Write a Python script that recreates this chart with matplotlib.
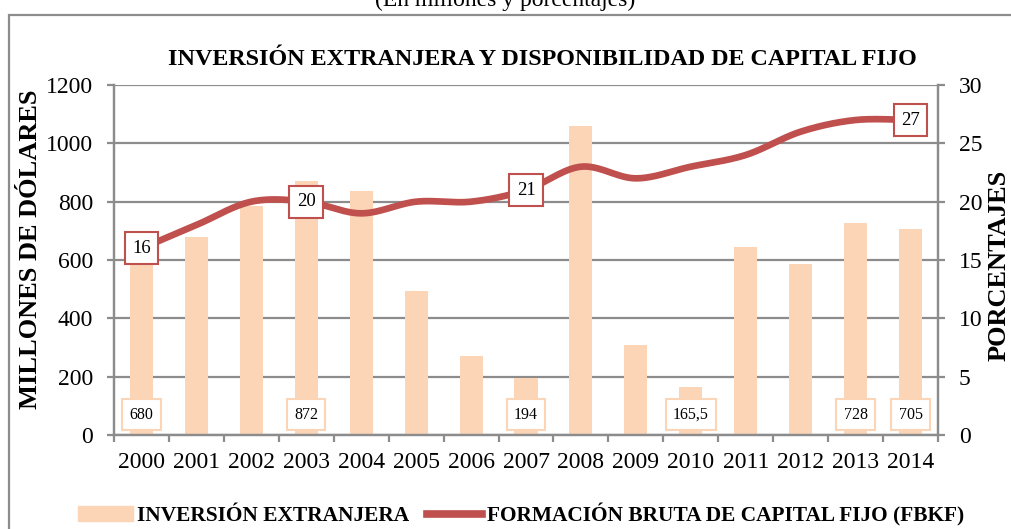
import numpy as np
import matplotlib
matplotlib.use('Agg')
import matplotlib.pyplot as plt
from matplotlib.patches import Rectangle, Patch
from matplotlib.lines import Line2D

plt.rcParams['font.family'] = ['Liberation Serif', 'DejaVu Serif']

# datos
anios = ['2000', '2001', '2002', '2003', '2004', '2005', '2006', '2007',
         '2008', '2009', '2010', '2011', '2012', '2013', '2014']
inversion = [680, 679, 785, 872, 836, 494, 271, 194, 1059, 308, 165.5, 645, 586, 728, 705]
fbkf = [16, 18, 20, 20, 19, 20, 20, 21, 23, 22, 23, 24, 26, 27, 27]

# etiquetas que se muestran
etiq_barras = {0: '680', 3: '872', 7: '194', 10: '165,5', 13: '728', 14: '705'}
etiq_linea = {0: '16', 3: '20', 7: '21', 14: '27'}

c_barra = '#FBD5B5'
c_linea = '#C0504D'
c_grid = '#8C8C8C'


def suavizar(x, y, n=30):
    '''curva suavizada tipo Excel (Bezier con puntos de control Catmull-Rom)'''
    x = np.asarray(x, float)
    y = np.asarray(y, float)
    px, py = [], []
    for i in range(len(x) - 1):
        i0 = max(i - 1, 0)
        i3 = min(i + 2, len(x) - 1)
        c1x = x[i] + (x[i + 1] - x[i0]) / 6
        c1y = y[i] + (y[i + 1] - y[i0]) / 6
        c2x = x[i + 1] - (x[i3] - x[i]) / 6
        c2y = y[i + 1] - (y[i3] - y[i]) / 6
        t = np.linspace(0, 1, n)
        bx = (1-t)**3*x[i] + 3*(1-t)**2*t*c1x + 3*(1-t)*t**2*c2x + t**3*x[i+1]
        by = (1-t)**3*y[i] + 3*(1-t)**2*t*c1y + 3*(1-t)*t**2*c2y + t**3*y[i+1]
        px.extend(bx)
        py.extend(by)
    return np.array(px), np.array(py)


fig = plt.figure(figsize=(10.11, 5.29), dpi=100)
ax = fig.add_axes([0.1128, 0.1777, 0.815, 0.6616])
ax2 = ax.twinx()

x = np.arange(len(anios))
ax.bar(x, inversion, width=0.42, color=c_barra, zorder=2)
ax.set_xlim(-0.5, len(anios) - 0.5)
ax.set_ylim(0, 1200)
ax.set_yticks(range(0, 1201, 200))
ax.grid(axis='y', color=c_grid, lw=1.6, zorder=0)
ax.set_axisbelow(True)

sx, sy = suavizar(x, fbkf)
ax2.plot(sx, sy, color=c_linea, lw=4.8, solid_capstyle='butt', zorder=3)
ax2.set_ylim(0, 30)
ax2.set_yticks(range(0, 31, 5))

for a in (ax, ax2):
    for s in a.spines.values():
        s.set_color(c_grid)
        s.set_linewidth(1.6)
    a.spines['top'].set_visible(False)
    a.tick_params(axis='y', labelsize=17, length=5, width=1.6, color=c_grid, pad=10)

ax.set_xticks(x)
ax.set_xticklabels(anios)
ax.set_xticks(np.arange(-0.5, len(anios)), minor=True)
ax.tick_params(axis='x', which='major', length=0, labelsize=17, pad=12)
ax.tick_params(axis='x', which='minor', length=5, width=1.6, color=c_grid)

# etiquetas de datos
for i, txt in etiq_barras.items():
    ax.text(x[i], 70, txt, ha='center', va='center', fontsize=11.5, zorder=5,
            bbox=dict(boxstyle='square,pad=0.45', fc='white', ec=c_barra, lw=1.5))
for i, txt in etiq_linea.items():
    ax2.text(x[i], fbkf[i], txt, ha='center', va='center', fontsize=13.5, zorder=5,
             bbox=dict(boxstyle='square,pad=0.4', fc='white', ec=c_linea, lw=1.5))

ax.set_ylabel('MILLONES DE DÓLARES', fontsize=19, fontweight='bold')
ax.yaxis.set_label_coords(-0.088, 0.53)
ax2.set_ylabel('PORCENTAJES', fontsize=19, fontweight='bold')
ax2.yaxis.set_label_coords(1.06, 0.486)

fig.text(0.536, 0.888, 'INVERSIÓN EXTRANJERA Y DISPONIBILIDAD DE CAPITAL FIJO',
         ha='center', va='center', fontsize=17.4, fontweight='bold')
fig.text(0.5, 1.0, '(En millones y porcentajes)', ha='center', va='center', fontsize=17)

# marco exterior
fig.patches.append(Rectangle((9 / 1011, -0.1), 1.2, 1 - 15 / 529 + 0.1,
                             transform=fig.transFigure, fill=False, ec=c_grid, lw=1.6))

handles = [Patch(color=c_barra), Line2D([], [], color=c_linea, lw=5.5)]
fig.legend(handles, ['INVERSIÓN EXTRANJERA', 'FORMACIÓN BRUTA DE CAPITAL FIJO (FBKF)'],
           loc='center', bbox_to_anchor=(0.515, 0.027), ncol=2, frameon=False,
           prop={'size': 15.4, 'weight': 'bold'}, handlelength=2.6, handletextpad=0.2,
           columnspacing=0.8)

fig.savefig('out.png', dpi=100)
